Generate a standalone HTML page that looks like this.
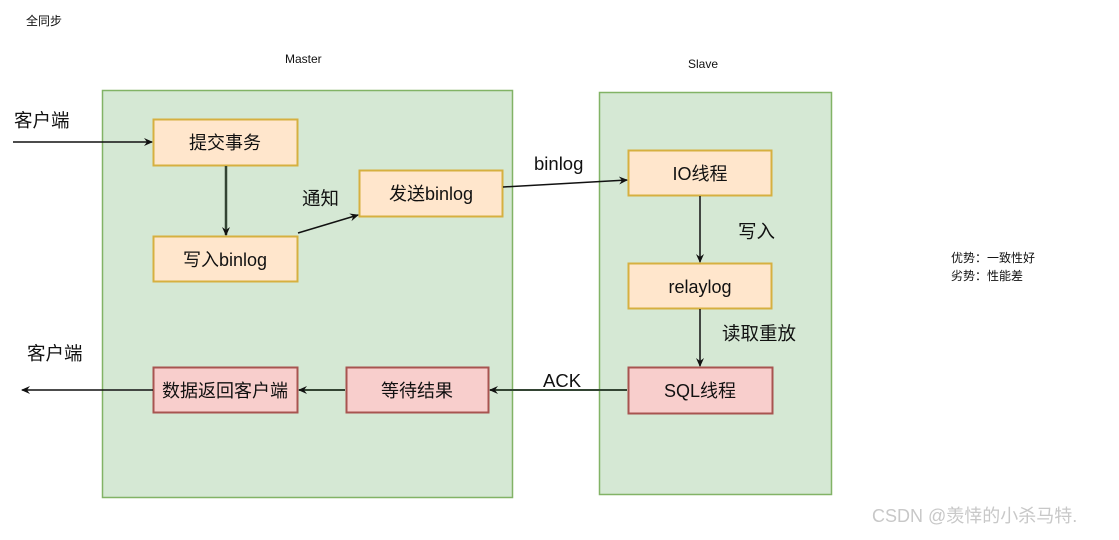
<!DOCTYPE html>
<html><head><meta charset="utf-8"><style>
html,body{margin:0;padding:0;background:#fff;}
svg text{font-family:"Liberation Sans","Noto Sans CJK SC",sans-serif;fill:#111;}
</style></head><body>
<svg width="1119" height="535" viewBox="0 0 1119 535" xmlns="http://www.w3.org/2000/svg">
<defs>
<marker id="a" markerWidth="10" markerHeight="10" refX="8" refY="5" orient="auto" markerUnits="userSpaceOnUse"><path d="M0,1 L9,5 L0,9 L3,5 Z" fill="#111"/></marker>
</defs>
<text x="26" y="25" font-size="12">全同步</text>
<text x="285" y="63" font-size="12">Master</text>
<text x="688" y="68" font-size="12">Slave</text>
<rect x="102.5" y="90.5" width="410" height="407" fill="#d5e8d4" stroke="#82b366" stroke-width="1.5"/>
<rect x="599.5" y="92.5" width="232" height="402" fill="#d5e8d4" stroke="#82b366" stroke-width="1.5"/>
<g stroke="#d6b040" fill="#ffe6cc" stroke-width="2">
<rect x="153.5" y="119.5" width="144" height="46"/>
<rect x="153.5" y="236.5" width="144" height="45"/>
<rect x="359.5" y="170.5" width="143" height="46"/>
<rect x="628.5" y="150.5" width="143" height="45"/>
<rect x="628.5" y="263.5" width="143" height="45"/>
</g>
<g stroke="#a85450" fill="#f8cecc" stroke-width="2">
<rect x="628.5" y="367.5" width="144" height="46"/>
<rect x="346.5" y="367.5" width="142" height="45"/>
<rect x="153.5" y="367.5" width="144" height="45"/>
</g>
<g font-size="18" text-anchor="middle">
<text x="225" y="149">提交事务</text>
<text x="225" y="266">写入binlog</text>
<text x="431" y="200">发送binlog</text>
<text x="700" y="180">IO线程</text>
<text x="700" y="293">relaylog</text>
<text x="700" y="397">SQL线程</text>
<text x="417" y="397">等待结果</text>
<text x="225" y="397">数据返回客户端</text>
</g>
<g font-size="18.5">
<text x="14" y="127">客户端</text>
<text x="27" y="360">客户端</text>
<text x="302" y="205">通知</text>
<text x="534" y="170">binlog</text>
<text x="738" y="238">写入</text>
<text x="722" y="340">读取重放</text>
<text x="543" y="387">ACK</text>
</g>
<g stroke="#111" stroke-width="1.5" fill="none" marker-end="url(#a)">
<line x1="13" y1="142" x2="152" y2="142"/>
<line x1="226" y1="166" x2="226" y2="235" stroke="#334433" stroke-width="2.5"/>
<line x1="298" y1="233" x2="358" y2="215"/>
<line x1="503" y1="187" x2="627" y2="180"/>
<line x1="700" y1="196" x2="700" y2="262"/>
<line x1="700" y1="309" x2="700" y2="366"/>
<line x1="627" y1="390" x2="490" y2="390" stroke="#334433" stroke-width="2"/>
<line x1="345" y1="390" x2="299" y2="390" stroke="#334433" stroke-width="2"/>
<line x1="153" y1="390" x2="22" y2="390"/>
</g>
<text x="951" y="262" font-size="12">优势：一致性好</text>
<text x="951" y="280" font-size="12">劣势：性能差</text>
<text x="872" y="522" font-size="18" style="fill:#c8c8c8">CSDN @羡悻的小杀马特.</text>
</svg>
</body></html>
